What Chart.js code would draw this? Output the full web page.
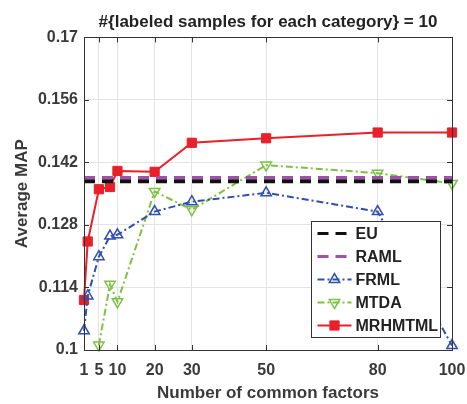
<!DOCTYPE html>
<html>
<head>
<meta charset="utf-8">
<script src="https://cdn.jsdelivr.net/npm/chart.js@4.4.1/dist/chart.umd.min.js"></script>
<style>
  html, body { margin: 0; padding: 0; background: #fff; }
  #wrap { width: 467px; height: 404px; }
</style>
</head>
<body>
<div id="wrap"><canvas id="chart"></canvas></div>
<script>
// values
const factors = [1, 2, 5, 8, 10, 20, 30, 50, 80, 100];
const mrhmtml = [0.1112, 0.1243, 0.1360, 0.1365, 0.1401, 0.1399, 0.1464, 0.1474, 0.1487, 0.1487];
const frml = [0.1043, 0.1121, 0.1209, 0.1255, 0.1258, 0.1310, 0.1332, 0.1352, 0.1310, 0.1010];
const mtdaFactors = [5, 8, 10, 20, 30, 50, 80, 100];
const mtda = [0.1011, 0.1147, 0.1108, 0.1355, 0.1314, 0.1414, 0.1396, 0.1373];
const euValue = 0.1378;
const ramlValue = 0.1386;
const xTicks = [1, 5, 10, 20, 30, 50, 80, 100];
const yTicks = [0.1, 0.114, 0.128, 0.142, 0.156, 0.17];
const yTickLabels = ['0.1', '0.114', '0.128', '0.142', '0.156', '0.17'];

const FONT = "'Liberation Sans', Arial, sans-serif";
const RED = '#e8202a';
const BLUE = '#2f4fae';
const GREEN = '#7cc242';
const MAGENTA = '#a24fae';
const BLACK = '#111111';

function pairs(xs, ys) {
  return xs.map((x, i) => ({ x: x, y: ys[i] }));
}

const datasets = [
  {
    label: 'EU',
    data: [{ x: factors[0], y: euValue }, { x: factors[factors.length - 1], y: euValue }],
    borderColor: BLACK,
    borderWidth: 4,
    borderDash: [11, 7],
    pointRadius: 0
  },
  {
    label: 'RAML',
    data: [{ x: factors[0], y: ramlValue }, { x: factors[factors.length - 1], y: ramlValue }],
    borderColor: MAGENTA,
    borderWidth: 3,
    borderDash: [11, 7],
    pointRadius: 0
  },
  {
    label: 'FRML',
    data: pairs(factors, frml),
    borderColor: BLUE,
    borderWidth: 2,
    borderDash: [7, 3, 2, 3],
    pointStyle: 'triangle',
    pointRadius: 6,
    pointBorderWidth: 1.5,
    pointBackgroundColor: 'rgba(0,0,0,0)',
    pointBorderColor: BLUE,
    clip: false
  },
  {
    label: 'MTDA',
    data: pairs(mtdaFactors, mtda),
    borderColor: GREEN,
    borderWidth: 2,
    borderDash: [7, 3, 2, 3],
    pointStyle: 'triangle',
    pointRotation: 180,
    pointRadius: 6,
    pointBorderWidth: 1.5,
    pointBackgroundColor: 'rgba(0,0,0,0)',
    pointBorderColor: GREEN,
    clip: false
  },
  {
    label: 'MRHMTML',
    data: pairs(factors, mrhmtml),
    borderColor: RED,
    borderWidth: 2,
    pointStyle: 'rect',
    pointRadius: 6.5,
    pointBorderWidth: 1,
    pointBackgroundColor: RED,
    pointBorderColor: RED,
    clip: false
  }
];

// box, inward ticks and the legend inside the axes, MATLAB style
const axesDecor = {
  id: 'axesDecor',
  afterDatasetsDraw(chart) {
    const ctx = chart.ctx;
    const a = chart.chartArea;
    const xs = chart.scales.x, ys = chart.scales.y;
    ctx.save();
    ctx.strokeStyle = '#333';
    ctx.lineWidth = 1;
    ctx.beginPath();
    xTicks.forEach(v => {
      const px = Math.round(xs.getPixelForValue(v)) + 0.5;
      ctx.moveTo(px, a.bottom); ctx.lineTo(px, a.bottom - 5);
      ctx.moveTo(px, a.top); ctx.lineTo(px, a.top + 5);
    });
    yTicks.forEach(v => {
      const py = Math.round(ys.getPixelForValue(v)) + 0.5;
      ctx.moveTo(a.left, py); ctx.lineTo(a.left + 5, py);
      ctx.moveTo(a.right, py); ctx.lineTo(a.right - 5, py);
    });
    ctx.stroke();
    ctx.strokeRect(Math.round(a.left) + 0.5, Math.round(a.top) + 0.5,
                   Math.round(a.right - a.left), Math.round(a.bottom - a.top));

    // legend
    const w = 129, h = 116;
    const bx = Math.round(a.right - 12 - w) + 0.5;
    const by = Math.round(a.bottom - 13 - h) + 0.5;
    ctx.fillStyle = '#fff';
    ctx.fillRect(bx, by, w, h);
    ctx.strokeStyle = '#333';
    ctx.strokeRect(bx, by, w, h);
    ctx.font = 'bold 16px ' + FONT;
    ctx.textBaseline = 'middle';
    chart.data.datasets.forEach((ds, i) => {
      const cy = by + 12 + i * 23;
      const x0 = bx + 6, x1 = bx + 40;
      const cx = (x0 + x1) / 2;
      ctx.save();
      ctx.strokeStyle = ds.borderColor;
      ctx.lineWidth = i < 2 ? 3 : 2;
      ctx.setLineDash(ds.borderDash || []);
      ctx.beginPath();
      ctx.moveTo(x0, cy); ctx.lineTo(x1, cy);
      ctx.stroke();
      if (ds.pointStyle) {
        ctx.fillStyle = ds.pointBackgroundColor;
        ctx.strokeStyle = ds.pointBorderColor;
        ctx.lineWidth = ds.pointBorderWidth;
        ctx.setLineDash([]);
        ctx.beginPath();
        const r = ds.pointRadius;
        if (ds.pointStyle === 'rect') {
          const s = r * Math.SQRT1_2;
          ctx.rect(cx - s, cy - s, 2 * s, 2 * s);
        } else {
          const dir = ds.pointRotation ? -1 : 1;
          ctx.moveTo(cx, cy - dir * r);
          ctx.lineTo(cx + r * 0.866, cy + dir * r * 0.5);
          ctx.lineTo(cx - r * 0.866, cy + dir * r * 0.5);
          ctx.closePath();
        }
        ctx.fill();
        ctx.stroke();
      }
      ctx.restore();
      ctx.fillStyle = '#222';
      ctx.textAlign = 'left';
      ctx.fillText(ds.label, bx + 44, cy + 1);
    });
    ctx.restore();
  }
};

Chart.defaults.font.family = FONT;
Chart.defaults.color = '#333';

new Chart(document.getElementById('chart'), {
  type: 'line',
  data: { datasets: datasets },
  plugins: [axesDecor],
  options: {
    responsive: true,
    maintainAspectRatio: false,
    animation: false,
    layout: { padding: { left: 0, right: 0, top: 0, bottom: 0 } },
    plugins: {
      legend: { display: false },
      tooltip: { enabled: false },
      title: {
        display: true,
        fullSize: false,
        text: '#{labeled samples for each category} = 10',
        color: '#222',
        font: { size: 17, weight: 'bold', family: FONT },
        padding: { top: 12, bottom: 5 }
      }
    },
    scales: {
      x: {
        type: 'linear',
        min: 1,
        max: 100,
        afterFit: s => { s.height = 54; s.paddingLeft = 0; s.paddingRight = 15; },
        afterBuildTicks: s => { s.ticks = xTicks.map(v => ({ value: v })); },
        grid: { color: '#e3e3e3', drawTicks: false },
        border: { display: false },
        ticks: {
          padding: 11,
          maxRotation: 0,
          autoSkip: false,
          color: '#3a3a3a',
          font: { size: 16, weight: 'bold' }
        },
        title: {
          display: true,
          text: 'Number of common factors',
          color: '#3a3a3a',
          font: { size: 17, weight: 'bold' },
          padding: { top: 0, bottom: 0 }
        }
      },
      y: {
        min: 0.1,
        max: 0.17,
        afterFit: s => { s.width = 84; },
        afterBuildTicks: s => { s.ticks = yTicks.map(v => ({ value: v })); },
        grid: { color: '#e3e3e3', drawTicks: false },
        border: { display: false },
        ticks: {
          padding: 6,
          autoSkip: false,
          color: '#3a3a3a',
          font: { size: 16, weight: 'bold' },
          callback: (v) => {
            const i = yTicks.findIndex(t => Math.abs(t - v) < 1e-9);
            return i >= 0 ? yTickLabels[i] : '';
          }
        },
        title: {
          display: true,
          text: 'Average MAP',
          color: '#3a3a3a',
          font: { size: 17, weight: 'bold' },
          padding: { top: 12, bottom: 0 }
        }
      }
    }
  }
});
</script>
</body>
</html>
